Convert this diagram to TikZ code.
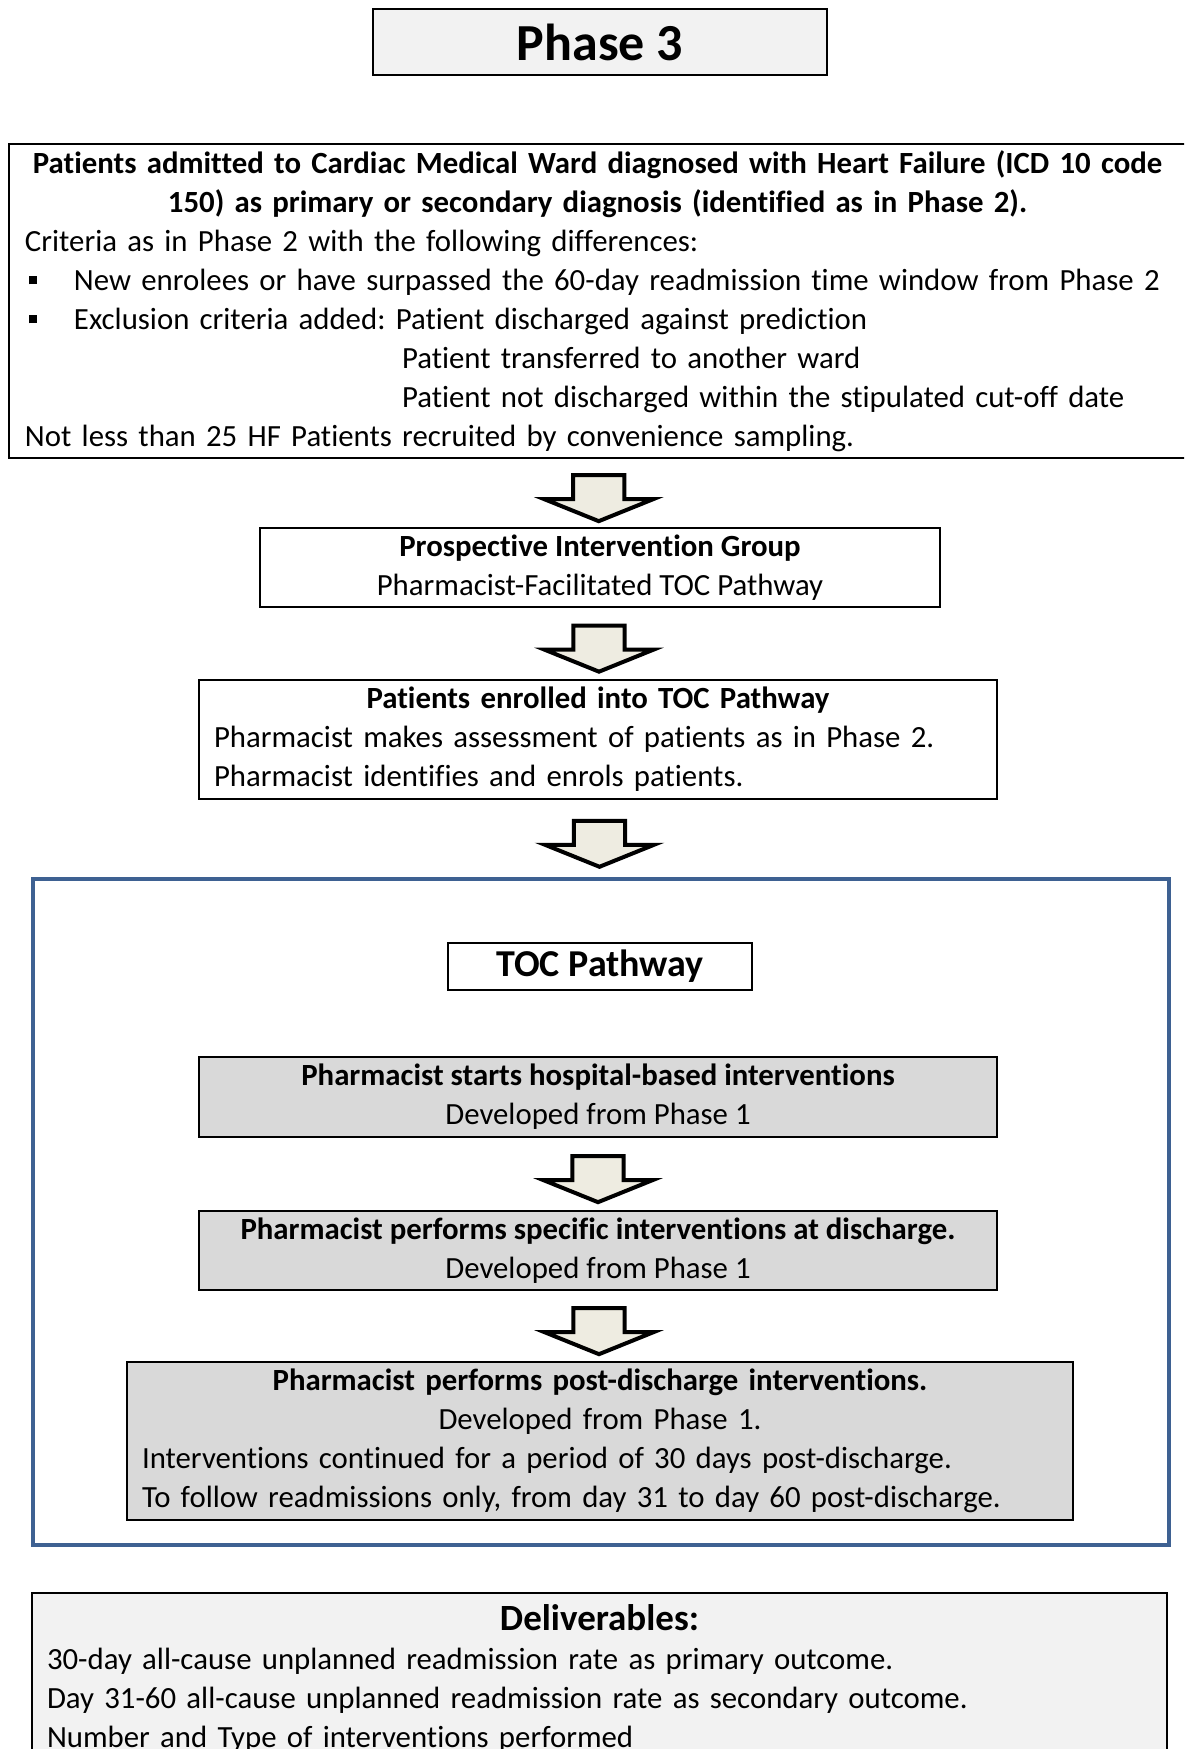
\documentclass[tikz,border=0pt]{standalone}
\usepackage{fontspec}
\setmainfont{Carlito}[Ligatures=NoCommon]
\usetikzlibrary{shapes.arrows,calc}
\definecolor{panelgray}{HTML}{F2F2F2}
\definecolor{stepgray}{HTML}{D9D9D9}
\definecolor{arrowfill}{HTML}{EEECE1}
\definecolor{frameblue}{HTML}{3E6192}
\newcommand{\sqbullet}{\hspace*{2pt}\rule[3pt]{4pt}{4pt}\hspace*{18.5pt}}
\setlength{\parindent}{0pt}
\frenchspacing

\begin{document}
\begin{tikzpicture}[
  x=0.5pt,y=-0.5pt,
  font=\fontsize{15.4}{19.5}\selectfont,
  plain/.style={draw,line width=1pt,inner xsep=7.5pt,inner ysep=0pt},
  shaded/.style={plain,fill=stepgray},
  title/.style={plain,fill=panelgray,font=\fontsize{26}{30}\selectfont\bfseries},
  subtitle/.style={plain,font=\fontsize{19}{22}\selectfont\bfseries},
  downarrow/.style={single arrow,draw,line width=2pt,fill=arrowfill,rotate=-90,
    minimum height=23pt,minimum width=54.5pt,inner xsep=0pt,inner ysep=10.5pt,
    single arrow head extend=13pt,single arrow tip angle=136}
]
% page frame (boxes run off the right and bottom edges)
\path[use as bounding box,clip] (0,0) rectangle (1184,1749);
\fill[white] (0,0) rectangle (1184,1749);

% heading
\node[title,minimum width=227pt,minimum height=33pt] (phase) at (600,42) {Phase 3};

% recruitment
\node[plain,text width=572.5pt,inner xsep=8pt,minimum height=157pt,align=left] (admit) at (597.5,301) {%
{\centering\bfseries Patients admitted to Cardiac Medical Ward diagnosed with Heart Failure (ICD 10 code\\
150) as primary or secondary diagnosis (identified as in Phase 2).\par}
Criteria as in Phase 2 with the following differences:\\
\sqbullet New enrolees or have surpassed the 60-day readmission time window from Phase 2\\
\sqbullet Exclusion criteria added: Patient discharged against prediction\\
\hspace*{188.5pt}Patient transferred to another ward\\
\hspace*{188.5pt}Patient not discharged within the stipulated cut-off date\\
Not less than 25 HF Patients recruited by convenience sampling.};

\node[plain,minimum width=340pt,minimum height=39.5pt,align=center] (prosp) at (600,567.5)
  {\textbf{Prospective Intervention Group}\\Pharmacist-Facilitated TOC Pathway};

\node[plain,text width=384pt,minimum height=59.5pt,align=left] (enrol) at (598,739.5) {%
{\centering\bfseries Patients enrolled into TOC Pathway\par}
Pharmacist makes assessment of patients as in Phase 2.\\
Pharmacist identifies and enrols patients.};

% TOC pathway frame
\node[draw=frameblue,line width=2pt,minimum width=568pt,minimum height=332.75pt,inner sep=0pt] (tocframe) at (601,1212) {};
\node[subtitle,minimum width=152pt,minimum height=23.5pt] (tocpath) at (600,966.5) {TOC Pathway};

\node[shaded,minimum width=399pt,minimum height=40pt,align=center] (pstart) at (598,1097)
  {\textbf{Pharmacist starts hospital-based interventions}\\Developed from Phase 1};
\node[shaded,minimum width=399pt,minimum height=39.5pt,align=center] (pdis) at (598,1250.5)
  {\textbf{Pharmacist performs specific interventions at discharge.}\\Developed from Phase 1};
\node[shaded,text width=458pt,minimum height=79pt,align=left] (ppost) at (600,1441) {%
{\centering\textbf{Pharmacist performs post-discharge interventions.}\\
Developed from Phase 1.\par}
Interventions continued for a period of 30 days post-discharge.\\
To follow readmissions only, from day 31 to day 60 post-discharge.};

% outcomes
\node[plain,fill=panelgray,minimum width=567.5pt,minimum height=103.5pt] (deliv) at (599.5,1696.5) {};
\node[text width=552.5pt,inner sep=0pt,anchor=north,align=left] (delivtext) at (599.5,1604) {%
{\centering\fontsize{18.5}{22}\selectfont\bfseries Deliverables:\par}
30-day all-cause unplanned readmission rate as primary outcome.\\
Day 31-60 all-cause unplanned readmission rate as secondary outcome.\\
Number and Type of interventions performed};

% block arrows
\node[downarrow] (arr1) at ($(admit.south)!0.5!(prosp.north)$) {};
\node[downarrow] (arr2) at ($(prosp.south)!0.5!(enrol.north)$) {};
\node[downarrow] (arr3) at ($(enrol.south)!0.5!(tocframe.north)$) {};
\node[downarrow] (arr4) at ($(pstart.south)!0.5!(pdis.north)$) {};
\node[downarrow] (arr5) at ($(pdis.south)!0.5!(ppost.north)$) {};
\end{tikzpicture}
\end{document}
